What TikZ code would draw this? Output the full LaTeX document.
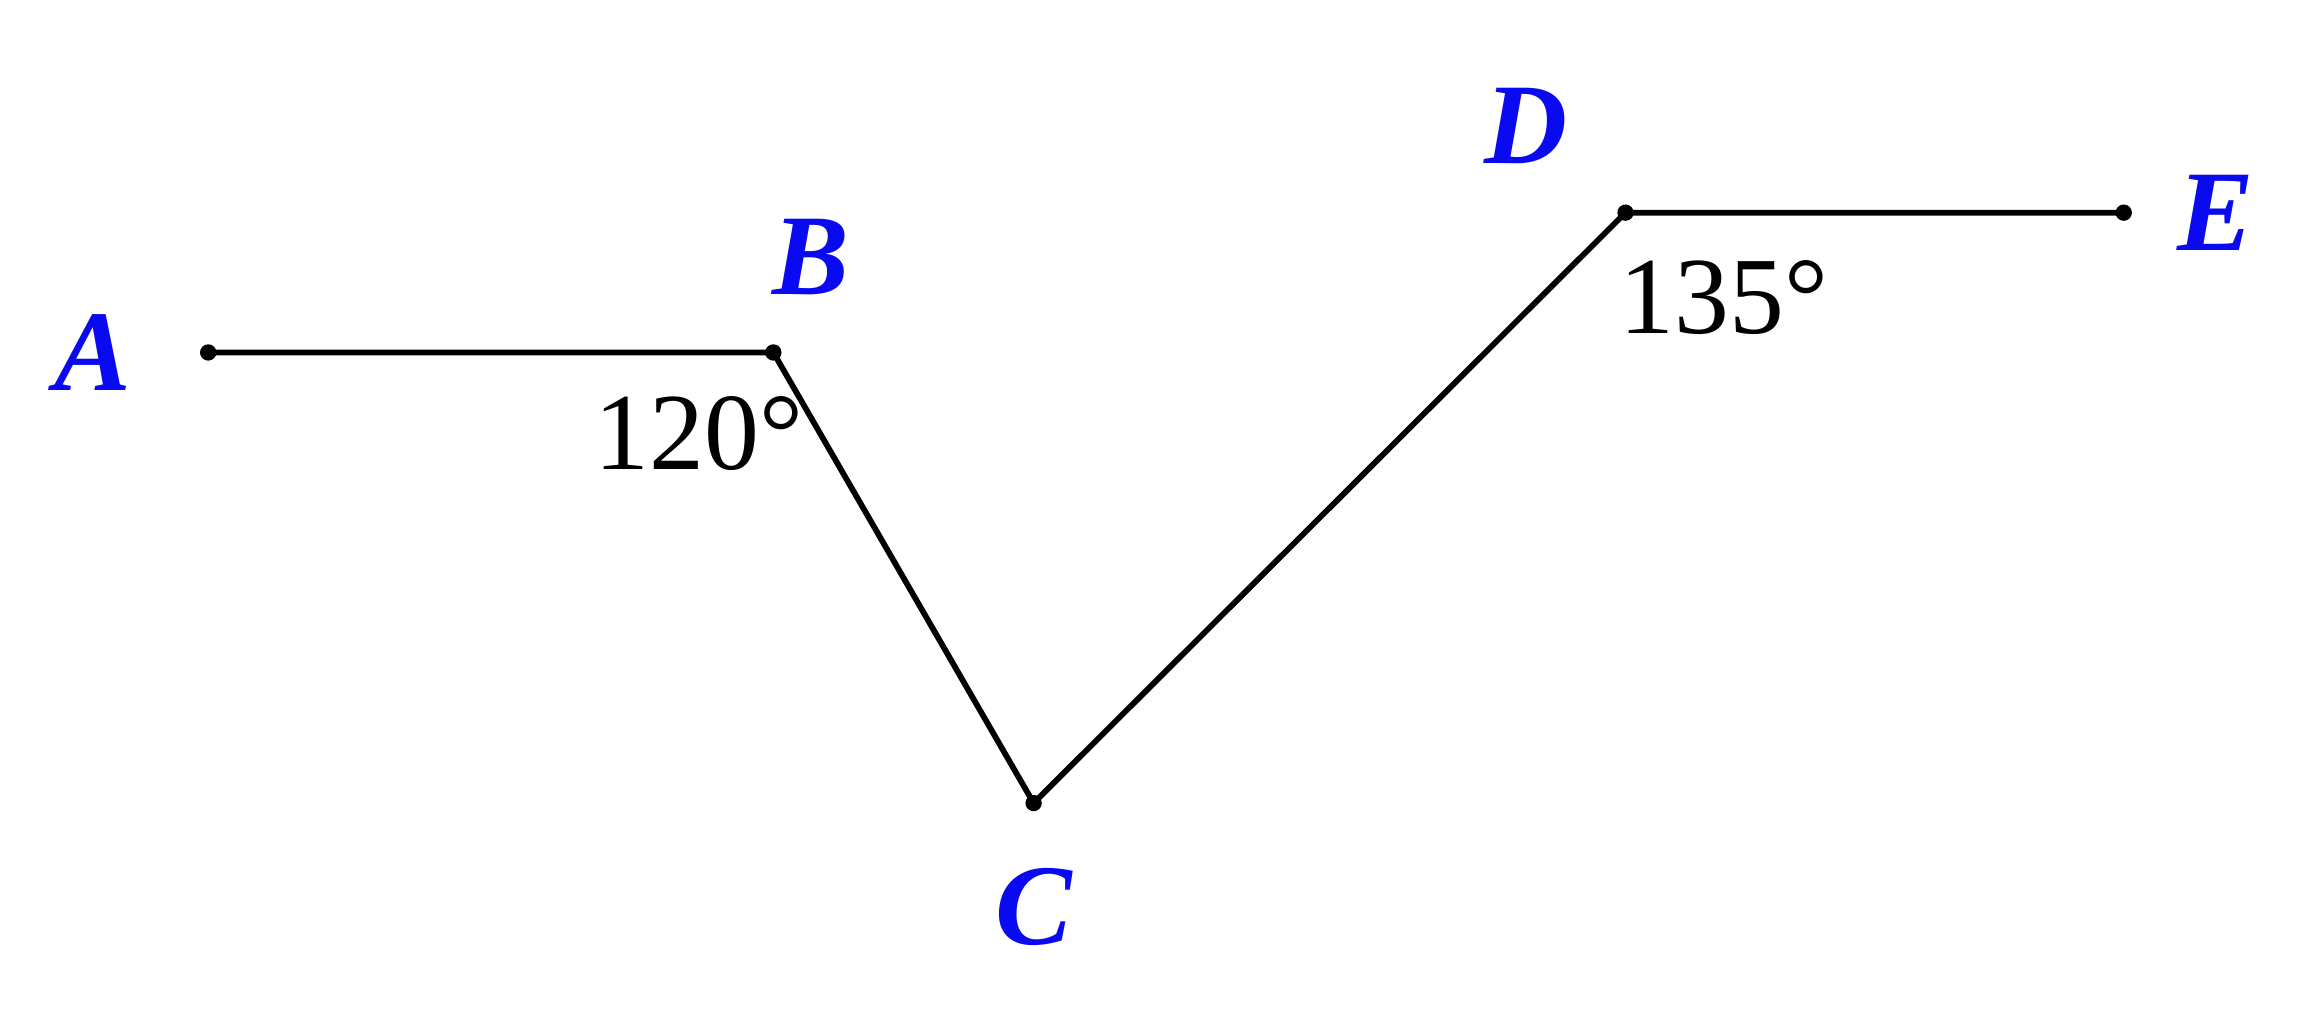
\documentclass[tikz,border=0pt]{standalone}
\usepackage{fontspec}
\setmainfont{LiberationSerif}[Extension=.ttf, UprightFont=*-Regular, BoldFont=*-Bold, ItalicFont=*-Italic, BoldItalicFont=*-BoldItalic]
\usetikzlibrary{positioning}
\definecolor{ptblue}{RGB}{10,10,240}
\tikzset{
  pt/.style={circle, fill=black, inner sep=0pt, minimum size=1.1mm},
  ptname/.style={inner sep=0pt, text=ptblue, font=\fontsize{22}{22}\selectfont\bfseries\itshape},
  anglabel/.style={inner sep=0pt, font=\fontsize{21}{21}\selectfont}
}
\begin{document}
\begin{tikzpicture}
                \useasboundingbox (0,0) rectangle (15.6,6.9);
                \node[pt] (A) at (1.40,4.53) {};
                \node[pt] (B) at (5.20,4.53) {};
                \node[pt] (C) at (6.95,1.50) {};
                \node[pt] (D) at (10.93,5.47) {};
                \node[pt] (E) at (14.28,5.47) {};
                \draw[line width=1.1pt, line join=round] (A.center) -- (B.center) -- (C.center) -- (D.center) -- (E.center);
                \node[ptname, left = 0.45cm of A] {A};
                \node[ptname, above = 0.32cm of B, xshift=0.25cm] {B};
                \node[ptname, below = 0.37cm of C] {C};
                \node[ptname, above = 0.26cm of D, xshift=-0.67cm] {D};
                \node[ptname, right = 0.29cm of E] {E};
                \node[anglabel, below = 0.23cm of B, xshift=-0.5cm] {120°};
                \node[anglabel, below = 0.25cm of D, xshift=0.66cm] {135°};
            \end{tikzpicture}
\end{document}
